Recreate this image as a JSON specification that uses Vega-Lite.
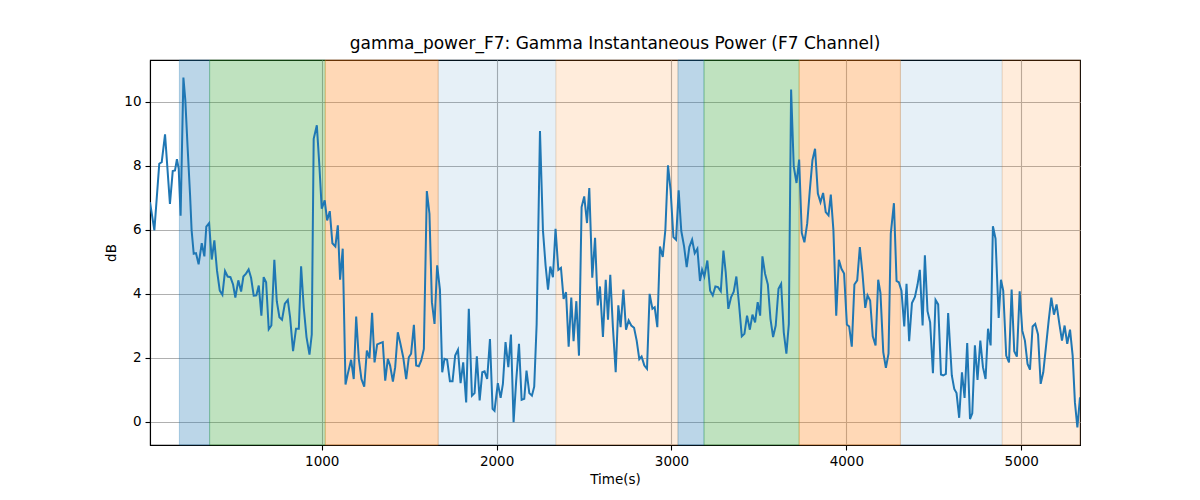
{
  "$schema": "https://vega.github.io/schema/vega-lite/v6.json",
  "width": 930,
  "height": 385,
  "autosize": "none",
  "padding": {"left": 150, "top": 60, "right": 120, "bottom": 55},
  "background": "white",
  "title": {
    "text": "gamma_power_F7: Gamma Instantaneous Power (F7 Channel)",
    "font": "DejaVu Sans", "fontSize": 17, "fontWeight": "normal", "color": "black", "offset": 7
  },
  "datasets": {
    "bands": [
      {"start": 186, "end": 359, "phase": "p1"},
      {"start": 359, "end": 1020, "phase": "p2"},
      {"start": 1020, "end": 1666, "phase": "p3"},
      {"start": 1666, "end": 2339, "phase": "p4"},
      {"start": 2339, "end": 3037, "phase": "p5"},
      {"start": 3037, "end": 3186, "phase": "p1"},
      {"start": 3186, "end": 3730, "phase": "p2"},
      {"start": 3730, "end": 4309, "phase": "p3"},
      {"start": 4309, "end": 4891, "phase": "p4"},
      {"start": 4891, "end": 5336, "phase": "p5"}
    ],
    "power": [
      {"t": 18, "db": 6.86}, {"t": 43, "db": 5.98}, {"t": 71, "db": 8.06}, {"t": 85, "db": 8.11},
      {"t": 104, "db": 8.98}, {"t": 132, "db": 6.81}, {"t": 148, "db": 7.83}, {"t": 161, "db": 7.85},
      {"t": 172, "db": 8.2}, {"t": 182, "db": 7.91}, {"t": 193, "db": 6.44}, {"t": 209, "db": 10.75},
      {"t": 220, "db": 10.04}, {"t": 233, "db": 8.58}, {"t": 247, "db": 7.1}, {"t": 256, "db": 5.98},
      {"t": 268, "db": 5.25}, {"t": 281, "db": 5.27}, {"t": 296, "db": 4.92}, {"t": 314, "db": 5.58},
      {"t": 329, "db": 5.17}, {"t": 340, "db": 6.1}, {"t": 356, "db": 6.21}, {"t": 371, "db": 5.07},
      {"t": 386, "db": 5.67}, {"t": 401, "db": 4.73}, {"t": 417, "db": 4.1}, {"t": 432, "db": 3.97},
      {"t": 447, "db": 4.71}, {"t": 462, "db": 4.54}, {"t": 478, "db": 4.52}, {"t": 493, "db": 4.29},
      {"t": 506, "db": 3.88}, {"t": 523, "db": 4.42}, {"t": 539, "db": 4.07}, {"t": 552, "db": 4.54},
      {"t": 567, "db": 4.63}, {"t": 582, "db": 4.76}, {"t": 596, "db": 4.5}, {"t": 611, "db": 3.94},
      {"t": 626, "db": 3.95}, {"t": 640, "db": 4.26}, {"t": 655, "db": 3.32}, {"t": 668, "db": 4.52},
      {"t": 682, "db": 4.36}, {"t": 697, "db": 2.89}, {"t": 712, "db": 3.01}, {"t": 729, "db": 5.06},
      {"t": 743, "db": 3.77}, {"t": 758, "db": 3.27}, {"t": 773, "db": 3.19}, {"t": 789, "db": 3.69},
      {"t": 806, "db": 3.81}, {"t": 819, "db": 3.27}, {"t": 836, "db": 2.21}, {"t": 853, "db": 2.91},
      {"t": 869, "db": 2.91}, {"t": 882, "db": 4.86}, {"t": 897, "db": 3.58}, {"t": 913, "db": 2.65},
      {"t": 930, "db": 2.1}, {"t": 943, "db": 2.73}, {"t": 954, "db": 8.84}, {"t": 972, "db": 9.26},
      {"t": 987, "db": 7.96}, {"t": 1000, "db": 6.66}, {"t": 1017, "db": 6.92}, {"t": 1031, "db": 6.29},
      {"t": 1046, "db": 6.58}, {"t": 1061, "db": 5.58}, {"t": 1078, "db": 5.48}, {"t": 1092, "db": 6.14},
      {"t": 1105, "db": 4.44}, {"t": 1120, "db": 5.41}, {"t": 1136, "db": 1.17}, {"t": 1149, "db": 1.5},
      {"t": 1168, "db": 1.94}, {"t": 1183, "db": 1.34}, {"t": 1197, "db": 3.29}, {"t": 1212, "db": 1.97},
      {"t": 1227, "db": 1.34}, {"t": 1243, "db": 1.1}, {"t": 1258, "db": 2.23}, {"t": 1273, "db": 1.99},
      {"t": 1288, "db": 3.41}, {"t": 1302, "db": 1.86}, {"t": 1317, "db": 2.42}, {"t": 1334, "db": 2.46},
      {"t": 1349, "db": 2.49}, {"t": 1363, "db": 1.29}, {"t": 1378, "db": 1.97}, {"t": 1391, "db": 1.76},
      {"t": 1407, "db": 1.26}, {"t": 1420, "db": 1.71}, {"t": 1435, "db": 2.8}, {"t": 1450, "db": 2.44},
      {"t": 1466, "db": 2.02}, {"t": 1483, "db": 1.34}, {"t": 1498, "db": 2.02}, {"t": 1511, "db": 2.13},
      {"t": 1527, "db": 3.03}, {"t": 1540, "db": 1.76}, {"t": 1555, "db": 1.74}, {"t": 1569, "db": 1.92},
      {"t": 1584, "db": 2.28}, {"t": 1601, "db": 7.21}, {"t": 1616, "db": 6.5}, {"t": 1630, "db": 3.74},
      {"t": 1645, "db": 3.06}, {"t": 1660, "db": 4.89}, {"t": 1676, "db": 4.13}, {"t": 1689, "db": 1.55},
      {"t": 1702, "db": 1.97}, {"t": 1717, "db": 1.94}, {"t": 1733, "db": 1.27}, {"t": 1748, "db": 1.27},
      {"t": 1763, "db": 2.07}, {"t": 1779, "db": 2.25}, {"t": 1794, "db": 1.21}, {"t": 1809, "db": 1.86},
      {"t": 1826, "db": 0.61}, {"t": 1841, "db": 3.53}, {"t": 1859, "db": 0.82}, {"t": 1874, "db": 0.9},
      {"t": 1887, "db": 2.05}, {"t": 1903, "db": 0.67}, {"t": 1918, "db": 1.55}, {"t": 1931, "db": 1.58},
      {"t": 1946, "db": 1.34}, {"t": 1962, "db": 2.59}, {"t": 1977, "db": 0.41}, {"t": 1988, "db": 0.35},
      {"t": 2007, "db": 1.21}, {"t": 2023, "db": 0.75}, {"t": 2036, "db": 1.19}, {"t": 2051, "db": 2.49},
      {"t": 2067, "db": 1.71}, {"t": 2082, "db": 2.73}, {"t": 2097, "db": -0.01}, {"t": 2112, "db": 1.29},
      {"t": 2128, "db": 2.44}, {"t": 2143, "db": 0.69}, {"t": 2158, "db": 0.72}, {"t": 2171, "db": 1.6},
      {"t": 2187, "db": 0.9}, {"t": 2202, "db": 0.82}, {"t": 2215, "db": 1.1}, {"t": 2229, "db": 3.06},
      {"t": 2248, "db": 9.08}, {"t": 2265, "db": 5.98}, {"t": 2280, "db": 4.89}, {"t": 2294, "db": 4.13},
      {"t": 2307, "db": 4.85}, {"t": 2322, "db": 4.52}, {"t": 2337, "db": 6.03}, {"t": 2353, "db": 4.75},
      {"t": 2368, "db": 4.81}, {"t": 2383, "db": 3.84}, {"t": 2397, "db": 4.05}, {"t": 2412, "db": 2.35},
      {"t": 2427, "db": 3.88}, {"t": 2440, "db": 2.52}, {"t": 2456, "db": 3.77}, {"t": 2471, "db": 2.07},
      {"t": 2486, "db": 6.71}, {"t": 2501, "db": 7.04}, {"t": 2517, "db": 6.21}, {"t": 2530, "db": 7.3},
      {"t": 2547, "db": 4.5}, {"t": 2563, "db": 5.75}, {"t": 2578, "db": 3.64}, {"t": 2591, "db": 4.23},
      {"t": 2608, "db": 2.65}, {"t": 2624, "db": 4.44}, {"t": 2637, "db": 3.19}, {"t": 2650, "db": 4.59},
      {"t": 2665, "db": 2.96}, {"t": 2681, "db": 1.55}, {"t": 2696, "db": 3.64}, {"t": 2709, "db": 2.96},
      {"t": 2725, "db": 4.13}, {"t": 2740, "db": 2.88}, {"t": 2755, "db": 3.17}, {"t": 2770, "db": 3.01},
      {"t": 2786, "db": 2.94}, {"t": 2801, "db": 2.54}, {"t": 2816, "db": 1.96}, {"t": 2829, "db": 2.04},
      {"t": 2845, "db": 1.76}, {"t": 2860, "db": 1.66}, {"t": 2875, "db": 4.0}, {"t": 2891, "db": 3.53},
      {"t": 2904, "db": 3.58}, {"t": 2919, "db": 2.96}, {"t": 2934, "db": 5.48}, {"t": 2950, "db": 5.15},
      {"t": 2965, "db": 6.0}, {"t": 2980, "db": 8.01}, {"t": 2995, "db": 7.23}, {"t": 3011, "db": 5.77},
      {"t": 3026, "db": 5.69}, {"t": 3041, "db": 7.23}, {"t": 3056, "db": 5.96}, {"t": 3072, "db": 5.48},
      {"t": 3087, "db": 4.83}, {"t": 3102, "db": 5.46}, {"t": 3118, "db": 5.69}, {"t": 3133, "db": 5.27},
      {"t": 3148, "db": 5.41}, {"t": 3163, "db": 4.4}, {"t": 3175, "db": 4.75}, {"t": 3188, "db": 4.54},
      {"t": 3205, "db": 5.04}, {"t": 3221, "db": 4.1}, {"t": 3236, "db": 3.95}, {"t": 3251, "db": 4.23},
      {"t": 3266, "db": 4.21}, {"t": 3282, "db": 4.08}, {"t": 3297, "db": 5.35}, {"t": 3310, "db": 4.68},
      {"t": 3325, "db": 3.53}, {"t": 3341, "db": 3.9}, {"t": 3356, "db": 4.07}, {"t": 3371, "db": 4.54},
      {"t": 3386, "db": 3.69}, {"t": 3402, "db": 2.67}, {"t": 3417, "db": 2.75}, {"t": 3432, "db": 3.32},
      {"t": 3448, "db": 2.88}, {"t": 3463, "db": 3.35}, {"t": 3478, "db": 3.11}, {"t": 3493, "db": 3.74},
      {"t": 3507, "db": 3.32}, {"t": 3520, "db": 5.17}, {"t": 3535, "db": 4.63}, {"t": 3551, "db": 4.29},
      {"t": 3566, "db": 3.22}, {"t": 3581, "db": 2.65}, {"t": 3596, "db": 3.01}, {"t": 3612, "db": 4.16},
      {"t": 3627, "db": 4.31}, {"t": 3642, "db": 2.8}, {"t": 3657, "db": 2.13}, {"t": 3671, "db": 3.06},
      {"t": 3684, "db": 10.38}, {"t": 3699, "db": 7.98}, {"t": 3715, "db": 7.46}, {"t": 3730, "db": 8.19},
      {"t": 3745, "db": 5.9}, {"t": 3760, "db": 5.61}, {"t": 3776, "db": 6.19}, {"t": 3791, "db": 7.23},
      {"t": 3806, "db": 8.17}, {"t": 3821, "db": 8.53}, {"t": 3837, "db": 7.13}, {"t": 3852, "db": 6.86},
      {"t": 3867, "db": 7.15}, {"t": 3882, "db": 6.55}, {"t": 3898, "db": 6.45}, {"t": 3911, "db": 7.1},
      {"t": 3926, "db": 5.98}, {"t": 3942, "db": 3.32}, {"t": 3957, "db": 5.06}, {"t": 3972, "db": 4.78},
      {"t": 3987, "db": 4.63}, {"t": 4003, "db": 3.04}, {"t": 4016, "db": 2.98}, {"t": 4031, "db": 2.35},
      {"t": 4046, "db": 4.29}, {"t": 4062, "db": 4.42}, {"t": 4077, "db": 5.46}, {"t": 4092, "db": 4.65},
      {"t": 4108, "db": 3.56}, {"t": 4121, "db": 3.95}, {"t": 4136, "db": 3.79}, {"t": 4151, "db": 2.67},
      {"t": 4167, "db": 2.39}, {"t": 4182, "db": 4.44}, {"t": 4195, "db": 4.02}, {"t": 4211, "db": 2.18},
      {"t": 4226, "db": 1.69}, {"t": 4241, "db": 2.13}, {"t": 4254, "db": 5.88}, {"t": 4272, "db": 6.83},
      {"t": 4287, "db": 4.4}, {"t": 4300, "db": 4.36}, {"t": 4315, "db": 4.1}, {"t": 4331, "db": 2.98},
      {"t": 4344, "db": 4.31}, {"t": 4359, "db": 2.52}, {"t": 4375, "db": 3.71}, {"t": 4392, "db": 3.9},
      {"t": 4407, "db": 4.29}, {"t": 4420, "db": 4.75}, {"t": 4436, "db": 3.01}, {"t": 4449, "db": 5.2},
      {"t": 4464, "db": 3.46}, {"t": 4479, "db": 3.11}, {"t": 4495, "db": 1.52}, {"t": 4510, "db": 3.81},
      {"t": 4525, "db": 3.67}, {"t": 4541, "db": 1.48}, {"t": 4554, "db": 1.45}, {"t": 4569, "db": 1.5},
      {"t": 4582, "db": 3.4}, {"t": 4603, "db": 1.45}, {"t": 4617, "db": 1.03}, {"t": 4630, "db": 0.9},
      {"t": 4645, "db": 0.13}, {"t": 4661, "db": 1.55}, {"t": 4676, "db": 0.75}, {"t": 4691, "db": 2.46},
      {"t": 4707, "db": 0.09}, {"t": 4720, "db": 0.27}, {"t": 4735, "db": 2.39}, {"t": 4750, "db": 1.31},
      {"t": 4766, "db": 2.54}, {"t": 4781, "db": 1.71}, {"t": 4796, "db": 1.34}, {"t": 4810, "db": 2.91},
      {"t": 4825, "db": 2.39}, {"t": 4838, "db": 6.11}, {"t": 4853, "db": 5.72}, {"t": 4871, "db": 3.25},
      {"t": 4884, "db": 4.44}, {"t": 4897, "db": 4.1}, {"t": 4914, "db": 2.07}, {"t": 4930, "db": 1.86},
      {"t": 4945, "db": 4.13}, {"t": 4960, "db": 2.21}, {"t": 4975, "db": 2.04}, {"t": 4991, "db": 4.08},
      {"t": 5006, "db": 2.85}, {"t": 5021, "db": 2.54}, {"t": 5036, "db": 1.81}, {"t": 5050, "db": 1.63},
      {"t": 5065, "db": 2.98}, {"t": 5080, "db": 3.06}, {"t": 5096, "db": 2.73}, {"t": 5111, "db": 1.19},
      {"t": 5126, "db": 1.55}, {"t": 5141, "db": 2.33}, {"t": 5157, "db": 3.17}, {"t": 5172, "db": 3.88},
      {"t": 5187, "db": 3.35}, {"t": 5202, "db": 3.67}, {"t": 5218, "db": 3.06}, {"t": 5233, "db": 2.54},
      {"t": 5248, "db": 3.01}, {"t": 5263, "db": 2.44}, {"t": 5279, "db": 2.88}, {"t": 5294, "db": 2.07},
      {"t": 5307, "db": 0.61}, {"t": 5321, "db": -0.17}, {"t": 5336, "db": 0.77}
    ]
  },
  "layer": [
    {
      "data": {"name": "bands"},
      "mark": {"type": "rect", "strokeWidth": 1},
      "encoding": {
        "x": {"field": "start", "type": "quantitative", "title": "Time(s)",
              "scale": {"domain": [18, 5336], "nice": false, "zero": false}},
        "x2": {"field": "end"},
        "color": {"field": "phase", "type": "nominal", "legend": null,
                  "scale": {"domain": ["p1", "p2", "p3", "p4", "p5"],
                            "range": ["rgba(31,119,180,0.3)", "rgba(44,160,44,0.3)", "rgba(255,127,14,0.3)",
                                      "rgba(31,119,180,0.11)", "rgba(255,127,14,0.15)"]}},
        "stroke": {"field": "phase", "type": "nominal", "legend": null,
                   "scale": {"domain": ["p1", "p2", "p3", "p4", "p5"],
                             "range": ["rgba(31,119,180,0.3)", "rgba(44,160,44,0.3)", "rgba(255,127,14,0.3)",
                                       "rgba(31,119,180,0.11)", "rgba(255,127,14,0.15)"]}}
      }
    },
    {
      "data": {"name": "power"},
      "mark": {"type": "line", "color": "#1f77b4", "strokeWidth": 2, "clip": true},
      "encoding": {
        "x": {"field": "t", "type": "quantitative", "title": "Time(s)",
              "scale": {"domain": [18, 5336], "nice": false, "zero": false},
              "axis": {"values": [1000, 2000, 3000, 4000, 5000], "format": "d"}},
        "y": {"field": "db", "type": "quantitative", "title": "dB",
              "scale": {"domain": [-0.72, 11.3], "nice": false, "zero": false},
              "axis": {"values": [0, 2, 4, 6, 8, 10], "format": "d"}}
      }
    }
  ],
  "config": {
    "view": {"stroke": "black", "strokeWidth": 1.1},
    "axis": {
      "grid": true, "gridColor": "#b0b0b0", "gridWidth": 1.1,
      "domainColor": "black", "domainWidth": 1.1,
      "tickColor": "black", "tickSize": 5, "tickWidth": 1.1,
      "labelFont": "DejaVu Sans", "labelFontSize": 13.5, "labelColor": "black", "labelPadding": 4,
      "labelFlush": false,
      "titleFont": "DejaVu Sans", "titleFontSize": 13.5, "titleFontWeight": "normal", "titleColor": "black",
      "titlePadding": 5
    }
  }
}
